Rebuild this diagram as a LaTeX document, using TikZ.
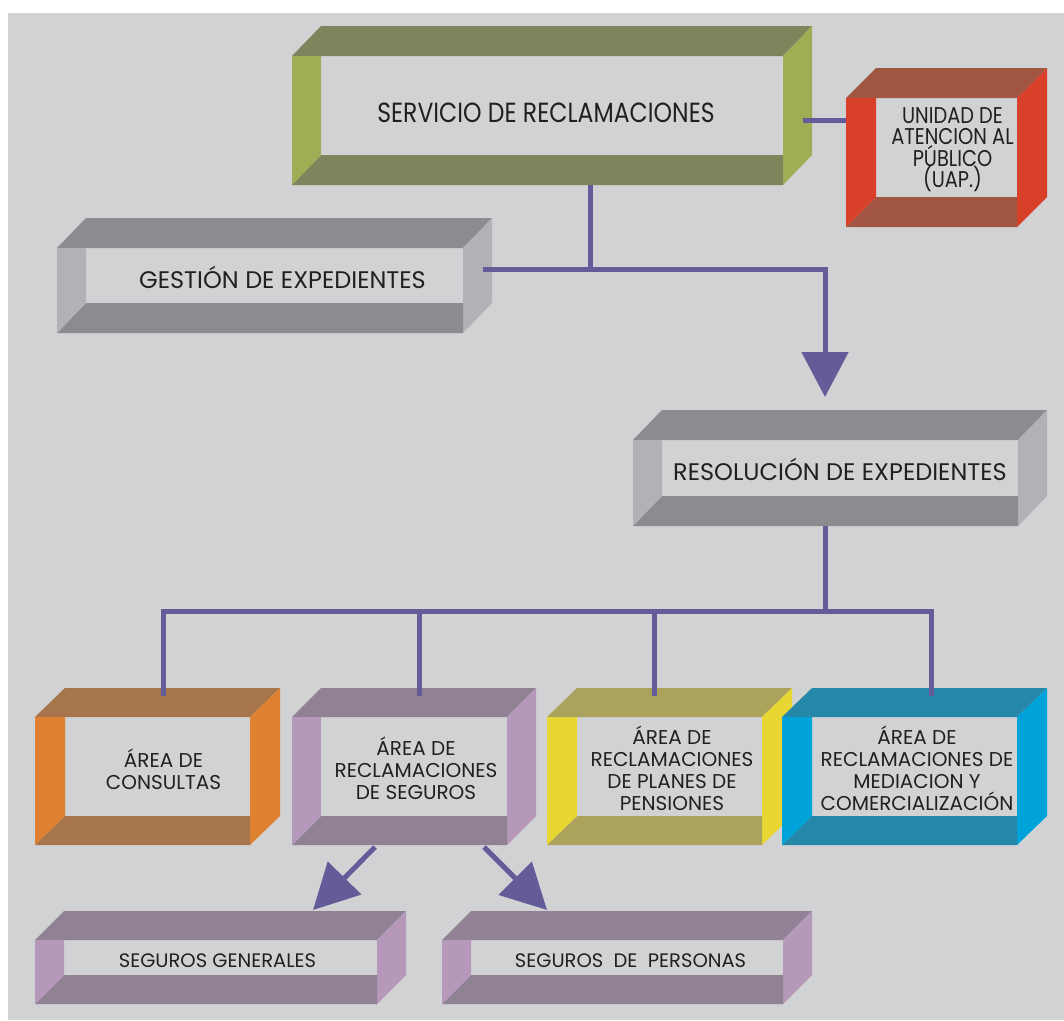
\documentclass[tikz,border=0pt]{standalone}
\usepackage{fontspec}
\setmainfont{Poppins}
\newfontfamily\narrowf{Poppins}[FakeStretch=0.85]
\usetikzlibrary{arrows.meta,calc}
\definecolor{bg}{HTML}{D1D2D4}
\definecolor{txtc}{HTML}{231F20}
\definecolor{conn}{HTML}{635C99}
\definecolor{oliveD}{HTML}{7E845C}\definecolor{oliveL}{HTML}{A0AD55}
\definecolor{redD}{HTML}{A15641}\definecolor{redL}{HTML}{D8402A}
\definecolor{grayD}{HTML}{8B8C90}\definecolor{grayL}{HTML}{B1B2B5}
\definecolor{orD}{HTML}{A6754B}\definecolor{orL}{HTML}{DE8231}
\definecolor{vioD}{HTML}{908294}\definecolor{vioL}{HTML}{B698BA}
\definecolor{yeD}{HTML}{ABA25C}\definecolor{yeL}{HTML}{E8D632}
\definecolor{blD}{HTML}{2688A8}\definecolor{blL}{HTML}{00A3D9}
% #1 name #2 x0 #3 y0 #4 x1 #5 y1 #6 dx #7 dy #8 dark #9 light
\newcommand\frbox[9]{%
 \fill[#8] (#2,#3) -- ({#2+#6},{#3-#7}) -- ({#4+#6},{#3-#7}) -- (#4,#3) -- cycle;
 \fill[#9] (#4,#3) -- ({#4+#6},{#3-#7}) -- ({#4+#6},{#5-#7}) -- (#4,#5) -- cycle;
 \fill[#8] (#2,#5) -- ({#2+#6},{#5-#7}) -- (#4,{#5-#7}) -- (#4,#5) -- cycle;
 \fill[#9] (#2,#3) -- ({#2+#6},#3) -- ({#2+#6},{#5-#7}) -- (#2,#5) -- cycle;
 \node[boxarea, minimum width={#4+#6-#2}, minimum height={#5-#3+#7}] (#1) at ({(#2+#4+#6)/2},{(#3-#7+#5)/2}) {};
}
\begin{document}
\begin{tikzpicture}[x=1pt,y=-1pt,
  boxarea/.style={draw=none,inner sep=0pt,outer sep=0pt,rectangle},
  txt/.style={text=txtc,align=center,inner sep=0pt},
  big/.style={font=\narrowf\fontsize{27.7}{30}\selectfont},
  uap/.style={font=\narrowf\fontsize{22.8}{21.5}\selectfont},
  mid/.style={font=\fontsize{24}{28}\selectfont},
  small/.style={font=\fontsize{20}{22}\selectfont},
  tiny/.style={font=\fontsize{19.5}{21}\selectfont},
  link/.style={draw=conn,line width=5pt},
  bigarrow/.style={link,-{Triangle[length=45pt,width=46pt]}}]
\useasboundingbox (0,0) rectangle (1064,1020);
\fill[white] (0,0) rectangle (1064,1020);
\fill[bg] (8,13) rectangle (1064,1020);

\frbox{b1}{292}{56}{783}{185}{29}{30}{oliveD}{oliveL}
\frbox{b2}{846}{98}{1017}{227}{30}{30}{redD}{redL}
\frbox{b3}{57}{248}{463}{333}{29}{30}{grayD}{grayL}
\frbox{b4}{633}{440}{1018}{526}{29}{30}{grayD}{grayL}
\frbox{b5}{35}{717}{250}{845}{30}{29}{orD}{orL}
\frbox{b6}{292}{717}{507}{845}{29}{29}{vioD}{vioL}
\frbox{b7}{547}{717}{762}{845}{30}{29}{yeD}{yeL}
\frbox{b8}{782}{717}{1017}{845}{30}{29}{blD}{blL}
\frbox{b9}{35}{940}{377}{1004}{29}{29}{vioD}{vioL}
\frbox{b10}{442}{940}{783}{1004}{29}{29}{vioD}{vioL}

\node[txt,big] (t1) at ($(b1)+(-6,7)$) {SERVICIO DE RECLAMACIONES};
\node[txt,uap] (t2) at ($(b2)+(6,2)$) {UNIDAD DE\\ATENCION AL\\PÚBLICO\\(UAP.)};
\node[txt,mid] (t3) at ($(b3)+(8,2)$) {GESTIÓN DE EXPEDIENTES};
\node[txt,mid] (t4) at ($(b4)+(0,1)$) {RESOLUCIÓN DE EXPEDIENTES};
\node[txt,small] (t5) at ($(b5)+(6,3)$) {ÁREA DE\\CONSULTAS};
\node[txt,small] (t6) at ($(b6)+(2,2)$) {ÁREA DE\\RECLAMACIONES\\DE SEGUROS};
\node[txt,small] (t7) at ($(b7)+(2.5,2)$) {ÁREA DE\\RECLAMACIONES\\DE PLANES DE\\PENSIONES};
\node[txt,small] (t8) at ($(b8)+(2.5,2)$) {ÁREA DE\\RECLAMACIONES DE\\MEDIACION Y\\COMERCIALIZACIÓN};
\node[txt,tiny] (t9) at ($(b9)+(-3,3)$) {SEGUROS GENERALES};
\node[txt,tiny] (t10) at ($(b10)+(3.5,3)$) {SEGUROS\ \ DE\ \ PERSONAS};

% top connectors
\coordinate (j1) at (590,269);
\coordinate (j2) at (825,269);
\draw[link] (b1.south -| j1) -- (j1);
\draw[bigarrow] ($(b3.east |- j1)+(-9,0)$) -- (j2) -- ($(j2 |- b4.north)+(0,-13)$);
\coordinate (k1) at (803,120);
\draw[link] (k1) -- (k1 -| b2.west);

% lower tree
\coordinate (bus) at (825,611);
\coordinate (d5) at (163,696);
\coordinate (d6) at (419,696);
\coordinate (d7) at (654,696);
\coordinate (d8) at (931,696);
\draw[link] (b4.south -| bus) -- (bus);
\draw[link,line join=miter] (d5) -- (d5 |- bus) -- (d8 |- bus) -- (d8);
\draw[link] (d6 |- bus) -- (d6);
\draw[link] (d7 |- bus) -- (d7);

% diagonal arrows
\coordinate (s9) at ($(b6.south)+(-39,2)$);
\coordinate (s10) at ($(b6.south)+(70,2)$);
\coordinate (e9) at (313,910);
\coordinate (e10) at (547,910);
\draw[bigarrow] (s9) -- (e9);
\draw[bigarrow] (s10) -- (e10);
\end{tikzpicture}
\end{document}
